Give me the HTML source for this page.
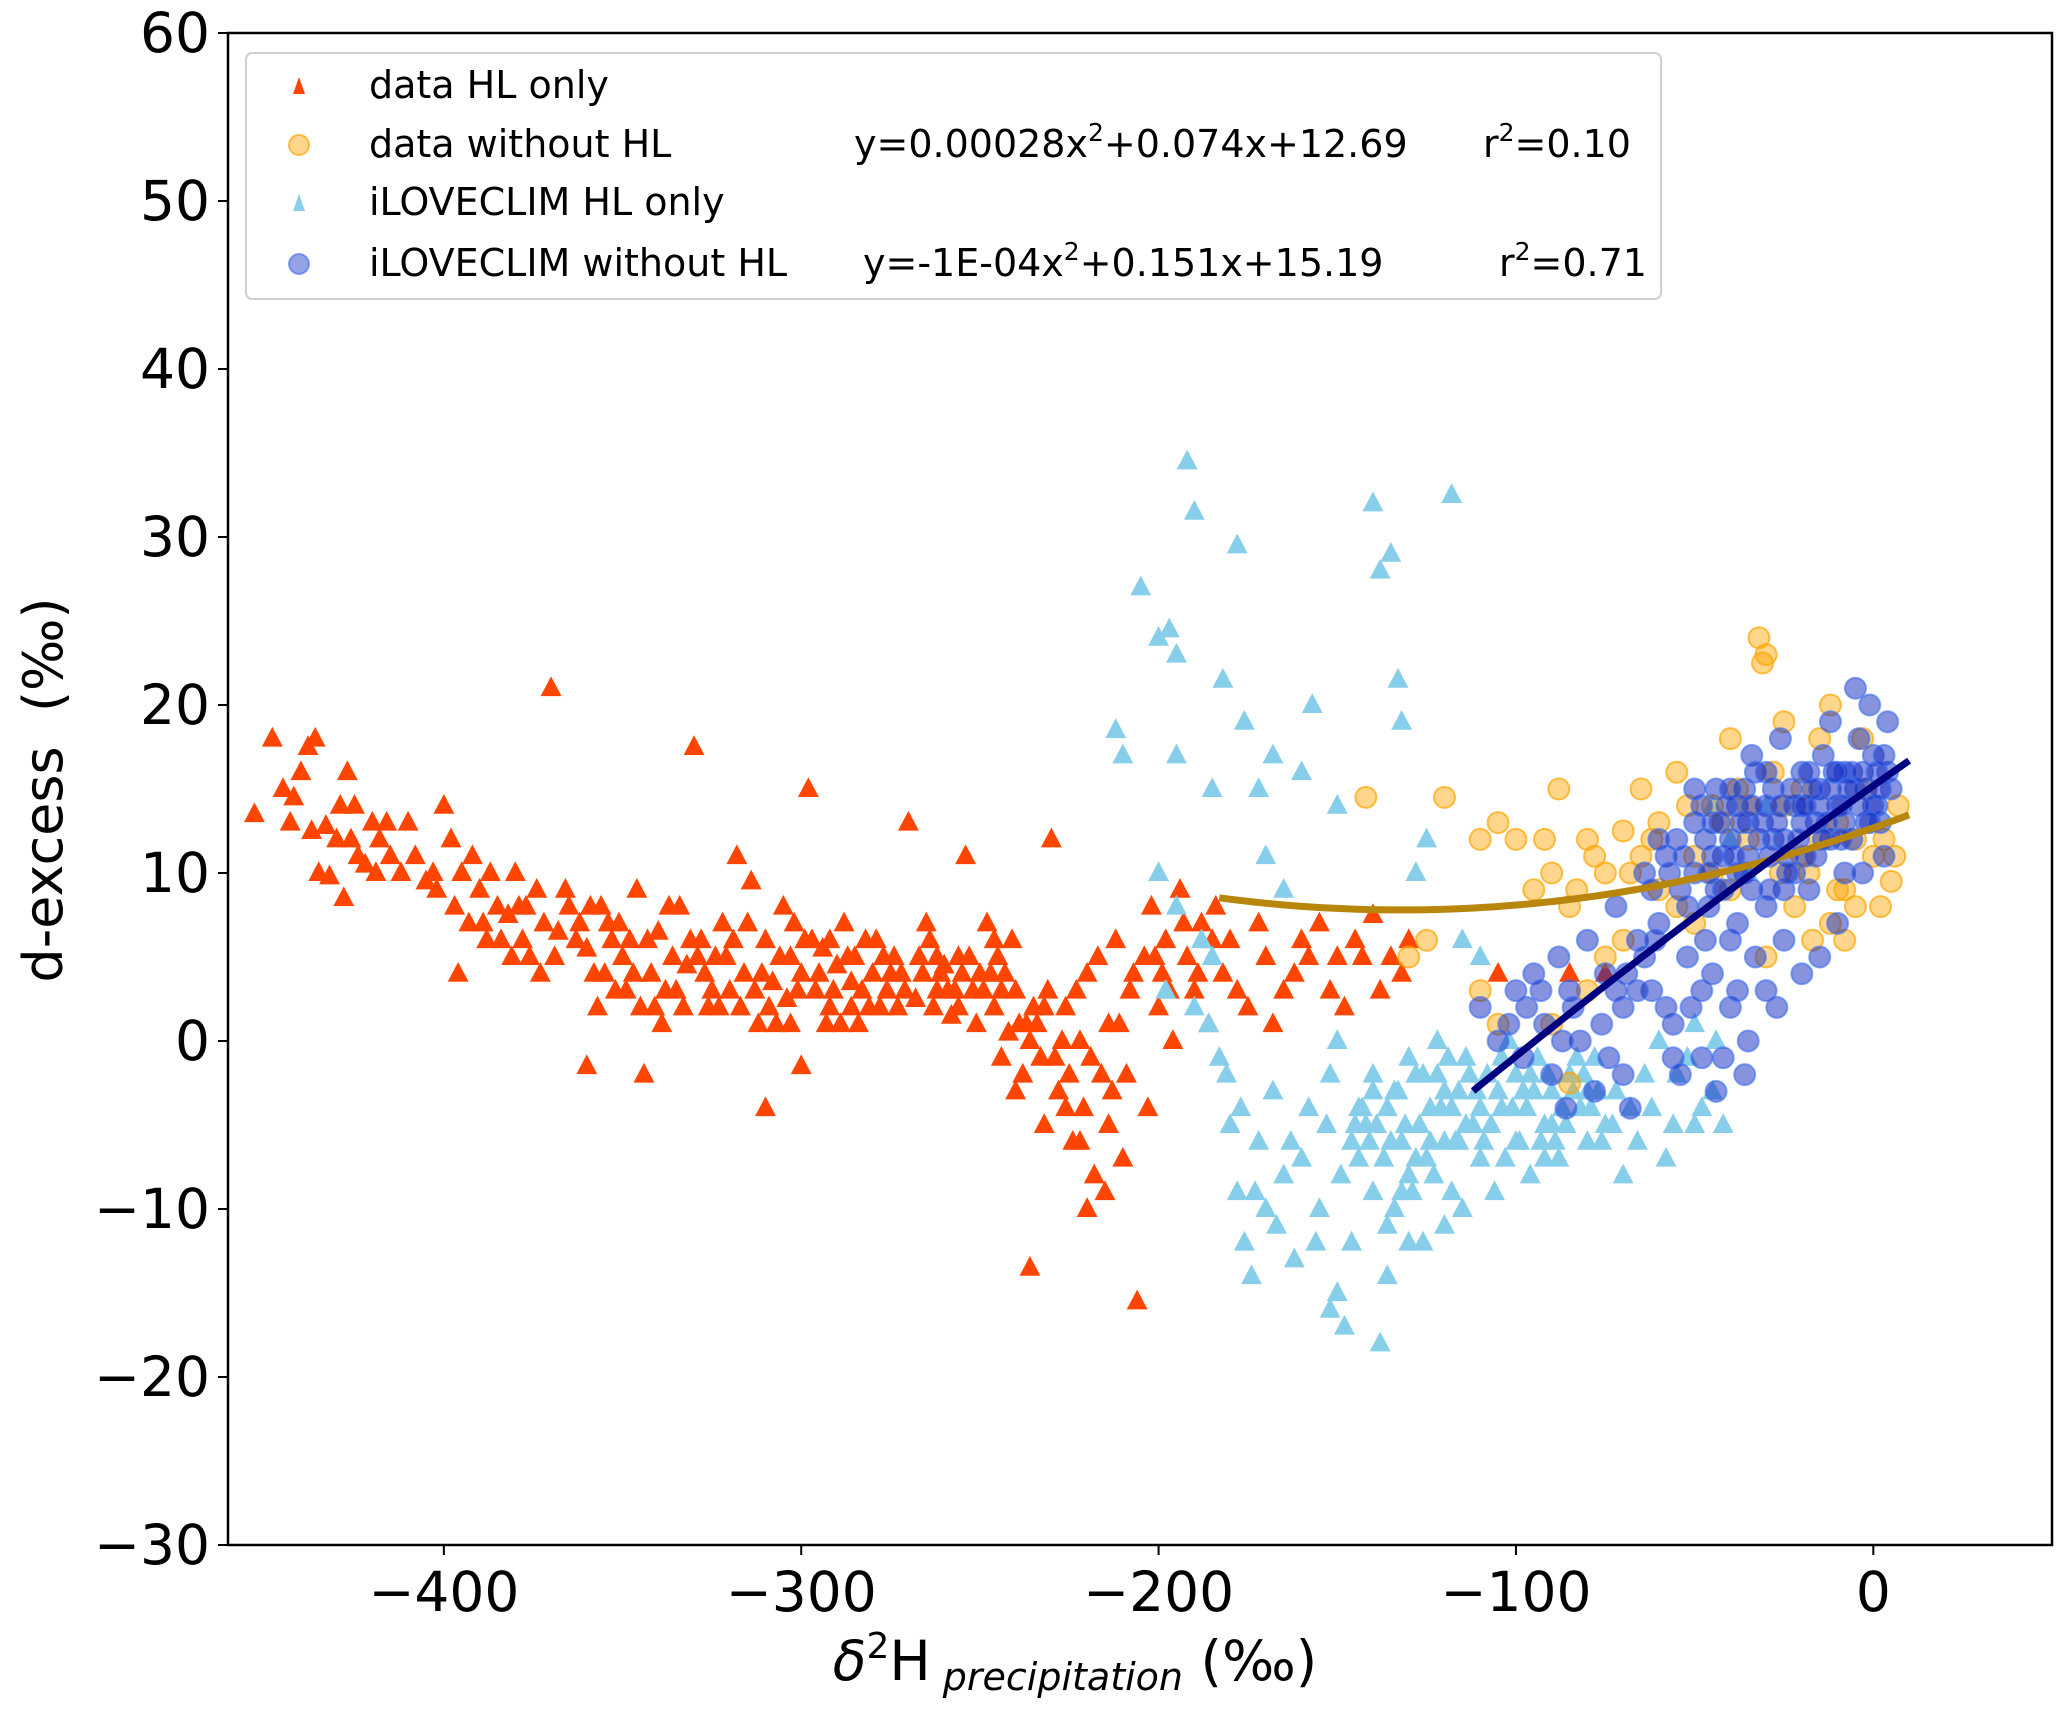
<!DOCTYPE html>
<html><head><meta charset="utf-8">
<style>
html,body{margin:0;padding:0;background:#fff;}
svg{display:block;font-family:"DejaVu Sans","Liberation Sans",sans-serif;}
</style></head>
<body>
<svg id="chart" width="2067" height="1709" viewBox="0 0 2067 1709" xmlns="http://www.w3.org/2000/svg">
<g id="marks"></g>
<g id="axes"></g>
</svg>
<script>
const xTicks=[-400,-300,-200,-100,0];
const yTicks=[60,50,40,30,20,10,0,-10,-20,-30];
const dataHL=[[-453,13.5],[-448,18],[-445,15],[-443,13],[-440,16],[-438,17.5],[-436,18],[-437,12.5],[-435,10],[-432,9.8],[-430,12],[-428,8.5],[-427,16],[-425,14],[-424,11],[-422,10.5],[-420,13],[-418,12],[-415,11],[-412,10],[-410,13],[-442,14.5],[-433,12.8],[-426,12],[-416,13],[-405,9.5],[-402,9],[-400,14],[-398,12],[-397,8],[-395,10],[-393,7],[-392,11],[-390,9],[-388,6],[-385,8],[-382,7.5],[-380,10],[-378,6],[-376,5],[-374,9],[-372,7],[-370,21],[-368,6.5],[-365,8],[-363,6],[-360,5.5],[-358,4],[-356,8],[-354,7],[-352,3],[-350,5],[-348,6],[-346,9],[-345,2],[-342,4],[-340,6.5],[-338,3],[-336,5],[-334,8],[-332,4.5],[-330,17.5],[-328,6],[-326,2],[-324,5],[-322,7],[-320,3],[-318,11],[-316,4],[-314,9.5],[-312,1],[-310,6],[-308,3.5],[-306,5],[-304,2.5],[-302,7],[-300,4],[-298,15],[-296,3],[-294,5.5],[-292,2],[-290,4.5],[-288,7],[-286,3.5],[-284,1],[-282,6],[-280,4],[-278,2],[-276,3],[-274,5],[-270,13],[-268,2.5],[-266,4],[-264,6],[-262,3],[-260,4.5],[-258,1.5],[-256,5],[-254,11],[-252,3],[-250,4],[-248,7],[-246,2],[-244,-1],[-242,0.5],[-240,3],[-238,-2],[-236,-13.5],[-234,1],[-232,-5],[-230,12],[-228,-3],[-226,2],[-224,-6],[-222,0],[-220,4],[-218,-8],[-216,-2],[-214,1],[-212,6],[-210,-7],[-208,3],[-206,-15.5],[-204,5],[-202,8],[-200,2],[-198,6],[-196,0],[-194,9],[-192,5],[-190,3],[-188,7],[-186,1],[-184,8],[-182,4],[-180,6],[-175,2],[-170,5],[-165,3],[-160,6],[-155,7],[-150,5],[-148,2],[-145,6],[-140,7.5],[-135,5],[-130,6],[-344,-2],[-310,-4],[-396,4],[-300,-1.5],[-360,-1.5],[-220,-10],[-215,-9],[-105,4],[-85,4],[-75,4],[-384,6],[-366,9],[-355,4],[-343,6],[-337,8],[-327,4],[-319,6],[-313,3],[-305,8],[-297,6],[-291,3],[-285,5],[-279,6],[-273,2],[-265,7],[-259,3],[-253,5],[-247,4],[-241,6],[-235,2],[-229,-1],[-223,3],[-217,5],[-211,1],[-203,-4],[-199,4],[-231,3],[-239,1],[-245,5],[-251,1],[-289,1],[-307,1],[-323,2],[-339,1],[-349,3],[-377,8],[-387,10],[-403,10],[-408,11],[-419,10],[-429,14],
[-381,5],[-373,4],[-362,7],[-357,2],[-353,6],[-347,4],[-341,2],[-335,3],[-331,6],[-325,3],[-321,5],[-317,2],[-315,7],[-311,4],[-309,2],[-303,5],[-301,3],[-299,6],[-295,4],[-293,1],[-287,5],[-283,3],[-281,2],[-277,5],[-275,4],[-271,3],[-267,5],[-263,2],[-261,4],[-257,3],[-255,4],[-249,3],[-243,4],[-237,1],[-233,-1],[-227,0],[-225,-2],[-221,-4],[-219,-1],[-213,-3],[-209,-2],[-207,4],[-201,5],[-197,3],[-193,7],[-189,4],[-185,6],[-178,3],[-172,7],[-168,1],[-162,4],[-158,5],[-152,3],[-143,5],[-138,3],[-132,4],[-389,7],[-379,8],[-369,5],[-359,8],[-351,7],[-333,2],[-329,5],[-303,1],[-292,6],[-286,2],[-272,4],[-262,5],[-256,2],[-246,6],[-244,3],[-240,-3],[-236,0],[-232,2],[-226,-4],[-222,-6],[-214,-5]];
const modelHL=[[-212,18.5],[-210,17],[-205,27],[-200,24],[-197,24.5],[-195,23],[-192,34.5],[-190,31.5],[-195,17],[-185,15],[-182,21.5],[-178,29.5],[-176,19],[-172,15],[-170,11],[-168,17],[-165,9],[-160,16],[-157,20],[-150,14],[-140,32],[-138,28],[-135,29],[-133,21.5],[-132,19],[-128,10],[-125,12],[-118,32.5],[-115,6],[-110,5],[-200,10],[-195,8],[-188,6],[-185,5],[-183,-1],[-180,-5],[-178,-9],[-176,-12],[-174,-14],[-172,-6],[-170,-10],[-168,-3],[-165,-8],[-162,-13],[-160,-7],[-158,-4],[-155,-10],[-152,-2],[-150,-15],[-148,-17],[-146,-12],[-144,-7],[-142,-5],[-140,-3],[-138,-18],[-136,-14],[-134,-10],[-132,-6],[-130,-8],[-128,-2],[-126,-12],[-124,-4],[-122,0],[-120,-6],[-118,-9],[-116,-3],[-114,-1],[-112,-5],[-110,-7],[-108,-2],[-106,-9],[-104,-4],[-102,0],[-100,-6],[-98,-3],[-96,-8],[-94,-1],[-92,-5],[-90,-3],[-88,-7],[-85,-2],[-82,-4],[-80,-6],[-78,-1],[-75,-5],[-72,-3],[-70,-8],[-66,-6],[-62,-4],[-58,-7],[-55,-2],[-50,-5],[-45,-3],[-42,-5],[-150,0],[-145,-5],[-140,-2],[-135,-6],[-130,-1],[-125,-7],[-120,-3],[-115,-10],[-140,-9],[-130,-12],[-120,-11],[-110,-4],[-100,-2],[-90,-5],[-80,-3],[-60,0],[-50,1],[-40,12],[-45,14],[-30,14],[-35,10],[-143,-4],[-137,-7],[-127,-5],[-123,-8],[-117,-6],[-113,-2],[-107,-5],[-103,-7],[-97,-4],[-93,-6],[-87,-4],[-83,-1],[-77,-3],[-146,-6],[-134,-3],[-129,-9],
[-144,-4],[-141,-6],[-139,-5],[-136,-4],[-133,-3],[-131,-5],[-126,-2],[-124,-6],[-121,-4],[-119,-1],[-116,-6],[-111,-3],[-109,-6],[-105,-3],[-101,-4],[-99,-6],[-95,-3],[-91,-2],[-89,-6],[-86,-5],[-84,-3],[-81,-2],[-79,-4],[-76,-6],[-73,-5],[-68,-4],[-64,-2],[-56,-5],[-52,-1],[-48,-4],[-44,0],[-122,-2],[-118,-4],[-114,-5],[-104,-1],[-96,-2],[-92,-7],[-128,-7],[-132,-9],[-136,-11],[-149,-8],[-153,-5],[-163,-6],[-167,-11],[-173,-9],[-177,-4],[-181,-2],[-186,1],[-190,2],[-198,3],[-156,-12],[-152,-16]];
const dataNoHL=[[-142,14.5],[-120,14.5],[-110,12],[-105,13],[-100,12],[-95,9],[-90,10],[-88,15],[-85,8],[-80,12],[-75,10],[-70,12.5],[-65,15],[-60,13],[-55,16],[-50,11],[-45,14],[-40,18],[-35,12],[-32,24],[-30,23],[-28,16],[-25,14],[-22,8],[-20,15],[-18,10],[-15,12],[-12,20],[-10,9],[-8,6],[-5,12],[-2,15],[0,11],[2,8],[5,9.5],[7,14],[-125,6],[-130,5],[-110,3],[-105,1],[-85,-2.5],[-80,3],[-70,6],[-60,9],[-50,7],[-40,9],[-30,5],[-20,11],[-10,13],[-3,18],[-15,18],[-25,19],[-45,10],[-65,11],[-55,8],[-35,14],[-90,1],[-75,5],[-31,22.5],[-8,9],[-12,7],[-17,6],[-5,8],[3,12],[6,11],[-26,10],[-38,15],[-42,13],[-52,14],[-62,12],[-68,10],[-78,11],[-83,9],[-92,12]];
const modelNoHL=[[-110,2],[-105,0],[-100,3],[-98,-1],[-95,4],[-92,1],[-90,-2],[-88,5],[-85,3],[-82,0],[-80,6],[-78,-3],[-75,4],[-72,8],[-70,2],[-68,-4],[-66,6],[-64,10],[-62,3],[-60,7],[-58,11],[-56,1],[-54,9],[-52,5],[-50,13],[-48,-1],[-46,8],[-44,15],[-42,11],[-40,6],[-38,14],[-36,10],[-34,17],[-32,12],[-30,8],[-28,15],[-26,18],[-24,11],[-22,14],[-20,16],[-18,9],[-16,13],[-14,17],[-12,19],[-10,14],[-8,16],[-6,12],[-4,18],[-2,15],[0,17],[2,13],[4,19],[5,15],[3,11],[-1,20],[-5,21],[-8,10],[-12,12],[-15,15],[-20,13],[-25,9],[-30,14],[-35,13],[-40,12],[-45,11],[-50,10],[-55,12],[-52,8],[-45,4],[-40,2],[-35,0],[-30,3],[-25,6],[-20,4],[-15,5],[-38,7],[-42,-1],[-48,3],[-58,2],[-62,9],[-66,3],[-56,-1],[-10,7],[-22,10],[-28,12],[-33,16],[-18,16],[-6,16],[-2,13],[1,14],[4,16],[-60,12],[-48,14],[-44,9],[-36,15],[-26,14],[-16,11],[-12,15],[-8,13],[-3,10],[-50,15],[-40,15],[-30,16],[-20,14],[-10,16],[-5,15],[0,14],[-15,14],[-25,12],[-35,11],[-45,13],
[-47,12],[-43,13],[-41,14],[-39,11],[-37,13],[-34,14],[-31,13],[-29,11],[-27,13],[-23,15],[-21,12],[-19,14],[-17,15],[-13,13],[-11,16],[-9,14],[-7,15],[-4,14],[-3,16],[-1,13],[1,16],[2,15],[3,17],[-46,10],[-42,9],[-38,10],[-34,9],[-29,9],[-24,10],[-19,11],[-14,12],[-9,12],[-53,11],[-57,10],[-61,6],[-64,5],[-69,4],[-72,3],[-76,1],[-84,2],[-87,0],[-93,3],[-97,2],[-102,1],[-47,6],[-51,2],[-54,-2],[-38,3],[-33,5],[-27,2],[-44,-3],[-36,-2],[-70,-2],[-74,-1],[-86,-4]];
const fitData=[0.00028,0.074,12.69,-183,10];
const fitModel=[-0.0001,0.151,15.19,-112,10];

const X0=-460.4,X1=50,Y0=-30,Y1=60;
const L=228,R=2052,T=33,B=1545;
const sx=v=>L+(v-X0)/(X1-X0)*(R-L);
const sy=v=>B-(v-Y0)/(Y1-Y0)*(B-T);
const NS='http://www.w3.org/2000/svg';
const marks=document.getElementById('marks'),axes=document.getElementById('axes');
function mk(tag,attrs,parent){const e=document.createElementNS(NS,tag);for(const k in attrs)e.setAttribute(k,attrs[k]);parent.appendChild(e);return e;}
function tri(x,y,s){return `${x},${y-s*0.62} ${x-s*0.55},${y+s*0.42} ${x+s*0.55},${y+s*0.42}`;}
const clip=mk('clipPath',{id:'pc'},marks);mk('rect',{x:L,y:T,width:R-L,height:B-T},clip);
const g=mk('g',{'clip-path':'url(#pc)'},marks);
dataHL.forEach(p=>{const e=mk('polygon',{points:tri(sx(p[0]),sy(p[1]),19),fill:'#ff4500'},g);

});
modelHL.forEach(p=>{const e=mk('polygon',{points:tri(sx(p[0]),sy(p[1]),19),fill:'#87ceeb'},g);

});
dataNoHL.forEach(p=>{const e=mk('circle',{cx:sx(p[0]),cy:sy(p[1]),r:10.5,fill:'rgba(255,165,0,0.45)',stroke:'rgba(255,165,0,0.7)','stroke-width':2},g);

});
modelNoHL.forEach(p=>{const e=mk('circle',{cx:sx(p[0]),cy:sy(p[1]),r:10.5,fill:'rgba(15,40,190,0.5)',stroke:'rgba(60,110,240,0.6)','stroke-width':2},g);

});
function fit(f,col,name){let d='';for(let i=0;i<=60;i++){const x=f[3]+(f[4]-f[3])*i/60;const y=f[0]*x*x+f[1]*x+f[2];d+=(i?'L':'M')+sx(x).toFixed(1)+','+sy(y).toFixed(1);}
const e=mk('path',{d:d,fill:'none',stroke:col,'stroke-width':7},g);

}
fit(fitData,'#b8860b','data-fit-curve');
fit(fitModel,'#000080','model-fit-curve');
const fr=mk('rect',{x:L,y:T,width:R-L,height:B-T,fill:'none',stroke:'#000','stroke-width':2.5},axes);


xTicks.forEach(v=>{const x=sx(v);mk('line',{x1:x,x2:x,y1:B,y2:B+10,stroke:'#000','stroke-width':2},axes);
const t=mk('text',{x:x,y:B+66,'text-anchor':'middle','font-size':55},axes);t.textContent=(v<0?'\u2212':'')+Math.abs(v);

});
yTicks.forEach(v=>{const y=sy(v);mk('line',{x1:L-10,x2:L,y1:y,y2:y,stroke:'#000','stroke-width':2},axes);
const t=mk('text',{x:L-18,y:y+19,'text-anchor':'end','font-size':55},axes);t.textContent=(v<0?'\u2212':'')+Math.abs(v);

});
</script>
<svg style="position:absolute;left:0;top:0" width="2067" height="1709">
<text transform="translate(62,790) rotate(-90)" text-anchor="middle" font-size="54" font-family="DejaVu Sans, sans-serif" xml:space="preserve">d-excess  (‰)</text>
<text x="1075" y="1680" text-anchor="middle" font-size="55" font-family="DejaVu Sans, sans-serif"><tspan font-style="italic">δ</tspan><tspan font-size="36" dy="-22">2</tspan><tspan dy="22">H</tspan><tspan font-size="38" font-style="italic" dy="10"> precipitation</tspan><tspan dy="-10"> (‰)</tspan></text>
<g font-family="DejaVu Sans, sans-serif" font-size="38">
<rect x="246" y="53" width="1415" height="246" rx="6" fill="rgba(255,255,255,0.85)" stroke="#d0d0d0" stroke-width="2"/>
<polygon points="299,77 293,94 305,94" fill="#ff4500"/>
<text x="369" y="98">data HL only</text>
<circle cx="299" cy="145" r="10" fill="rgba(255,165,0,0.45)" stroke="rgba(255,165,0,0.7)" stroke-width="2"/>
<text x="369" y="157">data without HL</text>
<text x="854" y="157">y=0.00028x<tspan font-size="25" dy="-16">2</tspan><tspan dy="16">+0.074x+12.69</tspan></text>
<text x="1483" y="157">r<tspan font-size="25" dy="-16">2</tspan><tspan dy="16">=0.10</tspan></text>
<polygon points="299,194 293,211 305,211" fill="#87ceeb"/>
<text x="369" y="215">iLOVECLIM HL only</text>
<circle cx="299" cy="264" r="10" fill="rgba(20,50,200,0.45)" stroke="rgba(60,110,240,0.6)" stroke-width="2"/>
<text x="369" y="276">iLOVECLIM without HL</text>
<text x="863" y="276">y=-1E-04x<tspan font-size="25" dy="-16">2</tspan><tspan dy="16">+0.151x+15.19</tspan></text>
<text x="1499" y="276">r<tspan font-size="25" dy="-16">2</tspan><tspan dy="16">=0.71</tspan></text>
</g>
</svg>
</body></html>
